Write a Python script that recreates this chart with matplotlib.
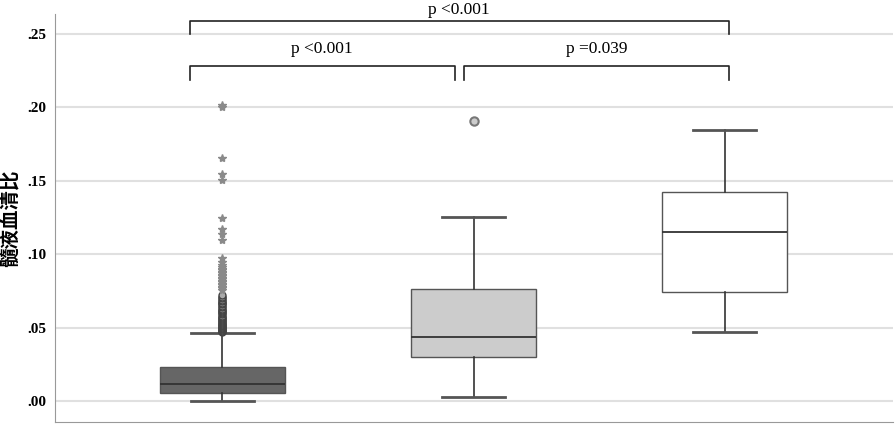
import matplotlib
matplotlib.use("Agg")
import matplotlib.pyplot as plt

# ---- data ----
groups = ["A", "B", "C"]
q1 = [0.0057, 0.0302, 0.0745]
med = [0.0116, 0.0434, 0.1154]
q3 = [0.0230, 0.0763, 0.1426]
whislo = [0.0002, 0.0029, 0.0468]
whishi = [0.0461, 0.1256, 0.1844]
fills = ["#666666", "#cccccc", "#ffffff"]

# outliers (circles) and extremes (stars)
g1_out = [0.0470, 0.0475, 0.0480, 0.0485, 0.0490, 0.0495, 0.0500, 0.0505, 0.0510,
          0.0515, 0.0520, 0.0525, 0.0530, 0.0540, 0.0545, 0.0550, 0.0560, 0.0565,
          0.0570, 0.0580, 0.0590, 0.0600, 0.0605, 0.0610, 0.0620, 0.0630, 0.0640,
          0.0650, 0.0660, 0.0665, 0.0670, 0.0680, 0.0690, 0.0700, 0.0710, 0.0720]
g1_ext = [0.0755, 0.0770, 0.0780, 0.0790, 0.0800, 0.0810, 0.0820, 0.0830, 0.0840,
          0.0850, 0.0860, 0.0870, 0.0880, 0.0890, 0.0900, 0.0910, 0.0925, 0.0950,
          0.0976, 0.1097, 0.1135, 0.1172, 0.1249, 0.1505, 0.1544, 0.1658, 0.2002,
          0.2015]
g2_out = [0.1910]

yticks = [0.00, 0.05, 0.10, 0.15, 0.20, 0.25]
ytick_labels = [".00", ".05", ".10", ".15", ".20", ".25"]
ylabel = "髓液血清比"

comparisons = [(0, 2, "p <0.001"), (0, 1, "p <0.001"), (1, 2, "p =0.039")]

# ---- figure ----
fig = plt.figure(figsize=(8.96, 4.32), dpi=100)
ax = fig.add_axes([0.0614, 0.023, 0.935, 0.9446])

stats = []
for i in range(3):
    stats.append(dict(q1=q1[i], med=med[i], q3=q3[i], whislo=whislo[i],
                      whishi=whishi[i], fliers=[]))

bp = ax.bxp(stats, positions=[0, 1, 2], widths=0.5, capwidths=0.25,
            patch_artist=True, showfliers=False,
            boxprops=dict(edgecolor="#555555", linewidth=1.0),
            medianprops=dict(color="#333333", linewidth=1.3),
            whiskerprops=dict(color="#333333", linewidth=1.2),
            capprops=dict(color="#555555", linewidth=2.0))
for patch, c in zip(bp["boxes"], fills):
    patch.set_facecolor(c)

ax.plot([0] * len(g1_out), g1_out, linestyle="none", marker="o", markersize=5,
        markerfacecolor="#aaaaaa", markeredgecolor="#444444", markeredgewidth=1.0,
        zorder=3)
ax.plot([0] * len(g1_ext), g1_ext, linestyle="none", marker="*", markersize=6,
        color="#8a8a8a", zorder=3)
ax.plot([1] * len(g2_out), g2_out, linestyle="none", marker="o", markersize=6,
        markerfacecolor="#cccccc", markeredgecolor="#777777", markeredgewidth=1.5,
        zorder=3)

ax.set_xlim(-0.667, 2.67)
ax.set_ylim(-0.0143, 0.2636)
ax.set_yticks(yticks)
ax.set_yticklabels(ytick_labels, fontfamily="Liberation Serif", fontweight="bold",
                   fontsize=11)
ax.set_xticks([])
ax.tick_params(axis="y", length=0, pad=6)
ax.yaxis.grid(True, color="#e0e0e0", linewidth=1.5)
ax.set_axisbelow(True)
for s in ["top", "right"]:
    ax.spines[s].set_visible(False)
ax.spines["left"].set_color("#999999")
ax.spines["bottom"].set_color("#999999")
ax.set_ylabel(ylabel, fontfamily=["Noto Sans CJK SC", "DejaVu Sans"],
              fontweight="bold", fontsize=14, labelpad=6)

# significance brackets
bracket_specs = {
    (0, 2): (-0.13, 2.016, 0.2589, 0.2500, 0.2633),
    (0, 1): (-0.13, 0.925, 0.2282, 0.2187, 0.2370),
    (1, 2): (0.964, 2.016, 0.2282, 0.2187, 0.2370),
}
for a, b, txt in comparisons:
    x0, x1, yh, yl, yt = bracket_specs[(a, b)]
    ax.plot([x0, x0, x1, x1], [yl, yh, yh, yl], color="#222222", linewidth=1.2,
            clip_on=False, solid_joinstyle="round")
    ax.text((x0 + x1) / 2, yt, txt, ha="center", va="baseline",
            fontfamily="Liberation Serif", fontsize=12.5, clip_on=False)

fig.savefig("out.png", dpi=100)
